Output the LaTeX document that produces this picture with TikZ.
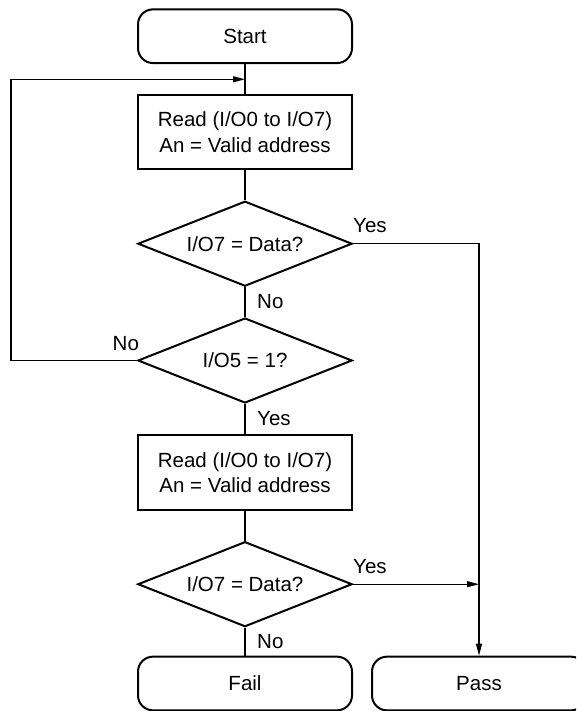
\documentclass[tikz,border=0pt]{standalone}
\usepackage{fontspec}
\setmainfont{Liberation Sans}
\usetikzlibrary{shapes.geometric,arrows.meta}
\begin{document}
\begin{tikzpicture}[x=1pt,y=-1pt,
  every node/.style={font=\fontsize{20.5}{25.6}\selectfont},
  term/.style={draw, line width=2pt, rounded corners=15pt, minimum width=214pt, minimum height=53.7pt, inner sep=0pt},
  proc/.style={draw, line width=2pt, minimum width=214pt, minimum height=74.5pt, inner sep=0pt, align=center},
  dec/.style={draw, diamond, line width=2pt, minimum width=214.3pt, minimum height=85pt, inner sep=0pt, aspect=2.52},
  conn/.style={line width=1.2pt},
  arr/.style={conn, -{Triangle[length=12pt,width=6pt]}},
  lbl/.style={inner sep=0pt, anchor=base west}]
\useasboundingbox (0,0) rectangle (576,711);
\clip (0,0) rectangle (576,711);
\node[term] (start) at (245,36.2) {Start};
\node[proc] (r1) at (245,132.2) {Read (I/O0 to I/O7)\\An = Valid address};
\node[dec] (d1) at (245,243.7) {I/O7 = Data?};
\node[dec] (d2) at (245,360.5) {I/O5 = 1?};
\node[proc] (r2) at (245,472.5) {Read (I/O0 to I/O7)\\An = Valid address};
\node[dec] (d3) at (245,584.2) {I/O7 = Data?};
\node[term] (fail) at (245,683.5) {Fail};
\node[term] (pass) at (479,683.5) {Pass};
\coordinate (join) at (245,79.3);
\coordinate (lx) at (11,79.3);
\coordinate (rx) at (479,243.7);
\coordinate (m3) at (pass.north |- d3.east);
\draw[conn] (start) -- (r1);
\draw[conn] (r1) -- (d1);
\draw[conn] (d1) -- (d2);
\draw[conn] (d2) -- (r2);
\draw[conn] (r2) -- (d3);
\draw[conn] (d3) -- (fail);
\draw[arr] (d2.west) -| (lx) -- (join);
\draw[arr] (d1.east) -- (rx) -- (pass.north);
\draw[arr] (d3.east) -- (m3);
\node[lbl] (y1) at (353,233) {Yes};
\node[lbl] (n1) at (257,308) {No};
\node[lbl] (n2) at (112.5,350.5) {No};
\node[lbl] (y2) at (257,425) {Yes};
\node[lbl] (y3) at (353,573.3) {Yes};
\node[lbl] (n3) at (257,648) {No};
\end{tikzpicture}
\end{document}
